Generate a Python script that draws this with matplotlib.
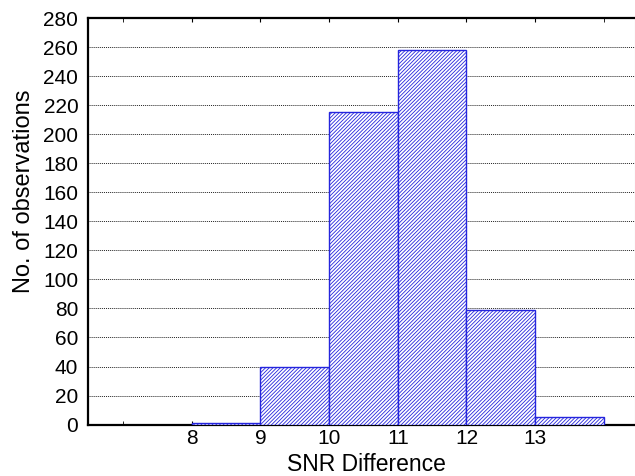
import matplotlib.pyplot as plt

plt.rcParams['font.family'] = ['Liberation Sans', 'DejaVu Sans']
plt.rcParams['hatch.color'] = '#4646d8'
plt.rcParams['hatch.linewidth'] = 0.6

# histogram bins (left edges) and counts
bin_left = [8, 9, 10, 11, 12, 13]
counts = [1, 40, 215, 258, 79, 5]
tick_pos = [8, 9, 10, 11, 12, 13]
tick_labels = ["8", "9", "10", "11", "12", "13"]

fig = plt.figure(figsize=(6.35, 4.76), dpi=100)
ax = fig.add_axes([0.1386, 0.108, 0.861, 0.854])

ax.bar(bin_left, counts, width=1.0, align="edge", facecolor="white",
       edgecolor="#2525dd", linewidth=1.0, hatch="/////////", zorder=3)

ax.set_xlim(6.49, 14.45)
ax.set_ylim(0, 280)
ax.set_yticks(range(0, 281, 20))
ax.set_xticks(tick_pos)
ax.set_xticklabels(tick_labels)
ax.set_xticks([7, 14], minor=True)

ax.grid(axis="y", color="#222222", linestyle=(0, (1, 1)), linewidth=0.7, zorder=1)

ax.tick_params(axis="y", length=0, labelsize=15, pad=7)
ax.tick_params(axis="x", which="both", direction="in", length=3, top=True,
               labelsize=15, pad=3)

for side in ["left", "bottom", "top"]:
    ax.spines[side].set_linewidth(1.6)
ax.spines["right"].set_color("#cccccc")
ax.spines["right"].set_linewidth(0.8)

ax.set_xlabel("SNR Difference", fontsize=16.5, va="center")
ax.xaxis.set_label_coords(0.51, -0.099)
ax.set_ylabel("No. of observations", fontsize=17, va="center")
ax.yaxis.set_label_coords(-0.117, 0.575)

plt.savefig("out.png", dpi=100)
